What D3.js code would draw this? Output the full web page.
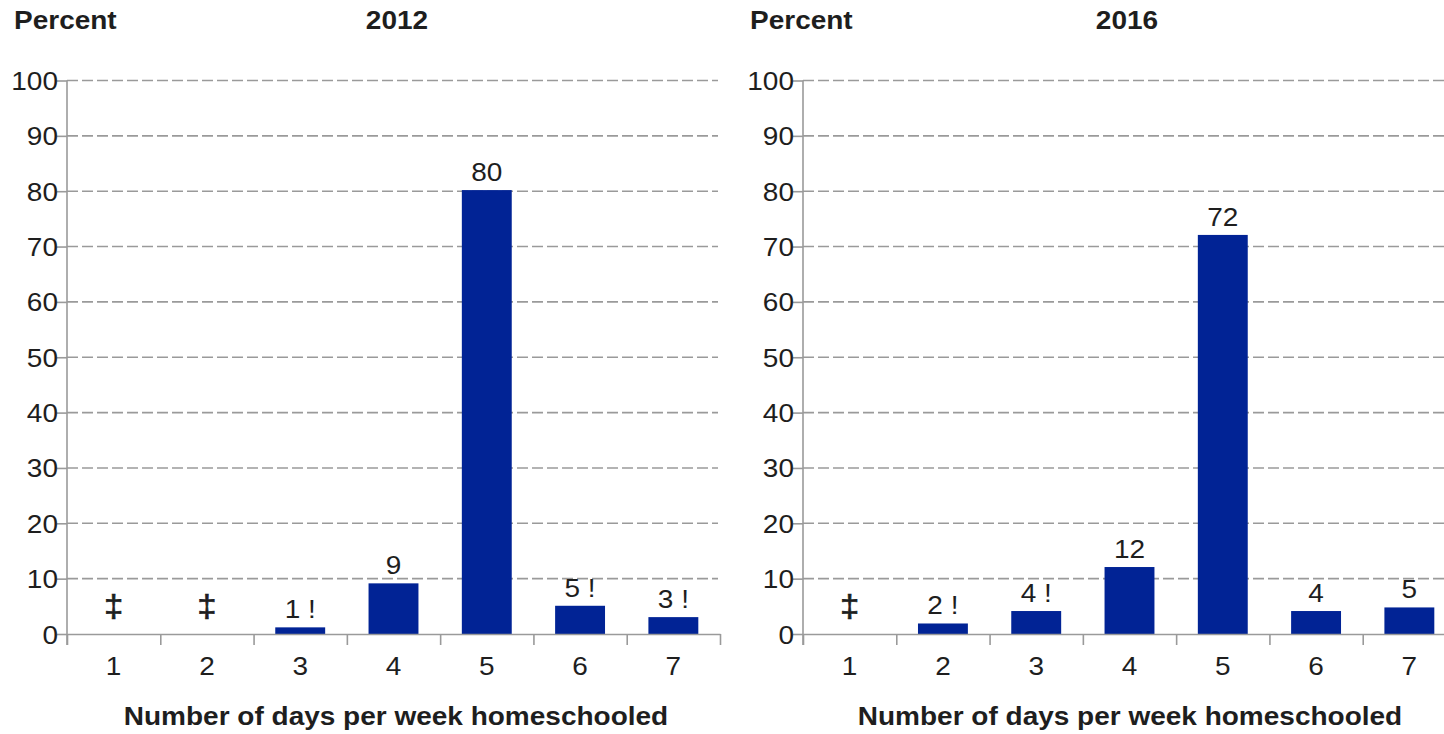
<!DOCTYPE html>
<html>
<head>
<meta charset="utf-8">
<script src="https://cdn.jsdelivr.net/npm/d3@7"></script>
<style>
  body { margin: 0; background: #fff; }
  svg { display: block; font-family: "Liberation Sans", Arial, sans-serif; }
</style>
</head>
<body>
<script>
const days = ["1", "2", "3", "4", "5", "6", "7"];
const yTicks = [0, 10, 20, 30, 40, 50, 60, 70, 80, 90, 100];

// null = reporting standards not met (shown as double dagger)
const values2012 = [null, null, 1.2, 9.15, 80.2, 5.1, 3.05];
const labels2012 = ["‡", "‡", "1 !", "9", "80", "5 !", "3 !"];

const values2016 = [null, 1.9, 4.15, 12.1, 72.1, 4.15, 4.8];
const labels2016 = ["‡", "2 !", "4 !", "12", "72", "4", "5"];

const width = 1444, height = 734;
const barColor = "#012395";
const gridColor = "#9a9a9a";
const textColor = "#1e1e1e";
const stretch = 1.12; // glyphs in the original are a bit wide

const svg = d3.select("body").append("svg")
    .attr("width", width)
    .attr("height", height);

const panels = [
    { year: "2012", values: values2012, labels: labels2012, x0: 67, x1: 720, gridEnd: 718, titleX: 397, axisTitleX: 396, percentX: 14 },
    { year: "2016", values: values2016, labels: labels2016, x0: 803, x1: 1456, gridEnd: 1444, titleX: 1127, axisTitleX: 1130, percentX: 750 }
];

const y = d3.scaleLinear().domain([0, 100]).range([634, 80.5]);

const addText = (g, txt, x, yPos, opts) => {
    return g.append("text")
        .attr("transform", `translate(${x},${yPos}) scale(${stretch},1)`)
        .attr("text-anchor", opts.anchor || "start")
        .attr("font-size", opts.size || 25)
        .attr("font-weight", opts.weight || "normal")
        .attr("fill", textColor)
        .text(txt);
};

panels.forEach(p => {
    const g = svg.append("g");

    const x = d3.scaleBand()
        .domain(days)
        .range([p.x0, p.x1])
        .paddingInner(0.465)
        .paddingOuter(0.2325);

    const bounds = d3.scaleLinear().domain([0, days.length]).range([p.x0, p.x1]);

    // dashed gridlines
    g.append("g")
        .selectAll("line")
        .data(yTicks.filter(d => d > 0))
        .enter()
        .append("line")
        .attr("x1", p.x0)
        .attr("x2", p.gridEnd)
        .attr("y1", d => y(d))
        .attr("y2", d => y(d))
        .attr("stroke", gridColor)
        .attr("stroke-width", 1.6)
        .attr("stroke-dasharray", "11,4");

    // y axis
    const yAxis = g.append("g")
        .attr("transform", `translate(${p.x0},0)`)
        .call(d3.axisLeft(y).tickValues(yTicks).tickSize(10).tickSizeOuter(0));
    yAxis.select(".domain").attr("stroke", gridColor).attr("stroke-width", 1.6)
        .attr("d", `M0,${y(100)}V645`);
    yAxis.selectAll(".tick line").attr("stroke", gridColor).attr("stroke-width", 1.6);
    yAxis.selectAll(".tick text")
        .attr("x", -9 / stretch)
        .attr("dy", "0.36em")
        .attr("transform", `scale(${stretch},1)`)
        .attr("font-size", 25)
        .attr("font-family", null)
        .attr("fill", textColor);

    // bars
    const idx = days.map((d, i) => i);
    g.append("g")
        .selectAll("rect")
        .data(idx.filter(i => p.values[i] !== null))
        .enter()
        .append("rect")
        .attr("x", i => x(days[i]))
        .attr("width", x.bandwidth())
        .attr("y", i => y(p.values[i]))
        .attr("height", i => y(0) - y(p.values[i]))
        .attr("fill", barColor);

    // x axis: boundary ticks
    const xTicks = g.append("g")
        .attr("transform", `translate(0,${y(0)})`)
        .call(d3.axisBottom(bounds).tickValues(d3.range(days.length + 1)).tickFormat("").tickSize(11).tickSizeOuter(0));
    xTicks.select(".domain").attr("stroke", gridColor).attr("stroke-width", 1.6);
    xTicks.selectAll(".tick line").attr("stroke", gridColor).attr("stroke-width", 1.6);

    // x axis: category labels
    const xLabels = g.append("g")
        .attr("transform", `translate(0,${y(0)})`)
        .call(d3.axisBottom(x).tickSize(0).tickPadding(0));
    xLabels.select(".domain").remove();
    xLabels.selectAll(".tick text")
        .attr("y", 41)
        .attr("dy", 0)
        .attr("transform", `scale(${stretch},1)`)
        .attr("font-size", 25)
        .attr("font-family", null)
        .attr("fill", textColor);

    // value labels
    g.append("g")
        .selectAll("text")
        .data(idx)
        .enter()
        .append("text")
        .attr("transform", i => {
            const cx = x(days[i]) + x.bandwidth() / 2;
            const ty = p.values[i] === null ? y(0) - 17 : y(p.values[i]) - 9;
            return `translate(${cx},${ty}) scale(${stretch},1)`;
        })
        .attr("text-anchor", "middle")
        .attr("font-size", i => p.values[i] === null ? 31 : 25)
        .attr("fill", textColor)
        .attr("stroke", i => p.values[i] === null ? textColor : null)
        .attr("stroke-width", i => p.values[i] === null ? 0.6 : null)
        .text(i => p.labels[i]);

    // titles
    addText(g, "Percent", p.percentX, 29, { weight: "bold" });
    addText(g, p.year, p.titleX, 29, { weight: "bold", anchor: "middle" });
    addText(g, "Number of days per week homeschooled", p.axisTitleX, 725, { weight: "bold", anchor: "middle" });
});
</script>
</body>
</html>
